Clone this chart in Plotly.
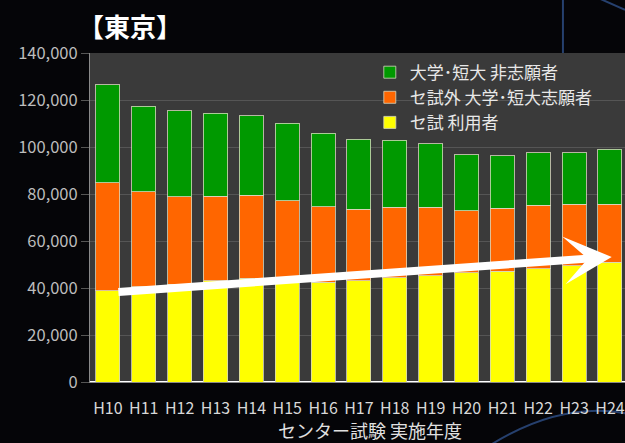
import plotly.graph_objects as go

# 実施年度
years = ["H10", "H11", "H12", "H13", "H14", "H15", "H16", "H17",
         "H18", "H19", "H20", "H21", "H22", "H23", "H24"]

# セ試 利用者
center_users = [38900, 40500, 41500, 43100, 44100, 42500, 42500, 43000,
                44400, 45200, 46500, 47200, 48200, 49500, 51000]
# top of the orange part (cumulative)
applicant_top = [84800, 81000, 78900, 79000, 79400, 77200, 74600, 73500,
                 74300, 74300, 72900, 73900, 75200, 75700, 75700]
# total height of each column
total_top = [126400, 117400, 115400, 114300, 113200, 110100, 105800, 103300,
             102800, 101300, 96700, 96200, 97600, 97600, 99100]

# セ試外 大学・短大志願者, 大学・短大 非志願者
other_applicants = [a - c for a, c in zip(applicant_top, center_users)]
non_applicants = [t - a for t, a in zip(total_top, applicant_top)]

font = "Noto Sans CJK JP"
edge = dict(color="rgba(215,215,190,0.8)", width=1)

fig = go.Figure()
fig.add_trace(go.Bar(x=years, y=center_users, name="セ試 利用者",
                     marker=dict(color="#ffff00", line=edge)))
fig.add_trace(go.Bar(x=years, y=other_applicants, name="セ試外 大学･短大志願者",
                     marker=dict(color="#ff6600", line=edge)))
fig.add_trace(go.Bar(x=years, y=non_applicants, name="大学･短大 非志願者",
                     marker=dict(color="#009900", line=edge)))

# trend arrow over the yellow part
fig.add_annotation(x=14.05, y=53200, ax=0.25, ay=38300,
                   xref="x", yref="y", axref="x", ayref="y",
                   text="", showarrow=True, arrowhead=3, arrowsize=1,
                   arrowwidth=8, arrowcolor="white")

# title
fig.add_annotation(x=-0.027, y=1.02, xref="paper", yref="paper",
                   xanchor="left", yanchor="bottom", showarrow=False,
                   text="<b>【東京】</b>", font=dict(family=font, size=26, color="white"))

# x axis title (the plot runs past the right edge, so it sits right of centre)
fig.add_annotation(x=0.523, y=-0.146, xref="paper", yref="paper",
                   xanchor="center", yanchor="middle", showarrow=False,
                   text="センター試験 実施年度", font=dict(family=font, size=18, color="#e0e0e0"))

# faint background curves of the slide
slide_line = dict(color="#26406e", width=2)
fig.add_shape(type="path", xref="paper", yref="paper",
              path="M 0.75,-0.19 Q 0.88,-0.06 1.0,-0.095",
              line=slide_line, layer="below")
fig.add_shape(type="line", xref="paper", yref="paper",
              x0=0.884, x1=0.884, y0=1.0, y1=1.17, line=slide_line, layer="below")
fig.add_shape(type="line", xref="paper", yref="paper",
              x0=0.953, x1=1.0, y0=1.165, y1=1.131, line=slide_line, layer="below")

fig.update_layout(
    width=625, height=443,
    margin=dict(l=90, r=0, t=53, b=61),
    paper_bgcolor="#050508",
    plot_bgcolor="#3a3a3a",
    barmode="stack",
    bargap=0.33,
    font=dict(family=font, color="#d8d8d8"),
    legend=dict(x=0.523, y=0.995, xanchor="left", yanchor="top",
                traceorder="reversed", bgcolor="rgba(0,0,0,0)",
                font=dict(size=17, color="#e8e8e8"),
                itemwidth=30, tracegroupgap=0),
    xaxis=dict(range=[-0.5, 14.42], tickfont=dict(size=16, color="#d8d8d8"),
               showline=True, linecolor="#8a8a8a", linewidth=1,
               ticks="outside", ticklen=12, tickcolor="rgba(0,0,0,0)"),
    yaxis=dict(range=[0, 140000], dtick=20000, tickformat=",",
               tickfont=dict(size=16.5, color="#bdbdbd"),
               gridcolor="#555555", showline=True, linecolor="#8a8a8a",
               mirror=True, ticks="outside", ticklen=8, tickcolor="#555555"),
)

fig.write_html("out.html", config={"displayModeBar": False},
               post_script="document.body.style.margin='0';"
                           "document.body.style.background='#050508';")
